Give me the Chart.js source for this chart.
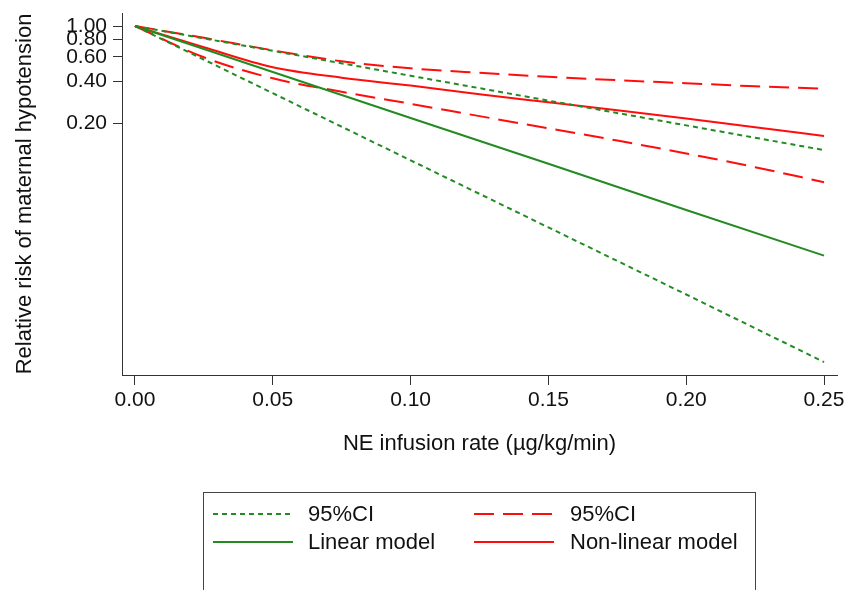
<!DOCTYPE html>
<html>
<head>
<meta charset="utf-8">
<script src="https://cdn.jsdelivr.net/npm/chart.js@4.4.1/dist/chart.umd.min.js"></script>
<style>
  html,body{margin:0;padding:0;background:#fff;}
  #wrap{width:846px;height:590px;position:relative;}
</style>
</head>
<body>
<div id="wrap"><canvas id="chRisk"></canvas></div>
<script>
// NE infusion rate vs relative risk (log scale)
const xLin      = [0, 0.05, 0.10, 0.15, 0.20, 0.25];
const linear    = [1, 0.468, 0.219, 0.103, 0.048, 0.0226];
const linUpper  = [1, 0.664, 0.440, 0.292, 0.194, 0.129];
const linLower  = [1, 0.330, 0.109, 0.036, 0.0119, 0.0039];

const xNL        = [0, 0.025, 0.05, 0.075, 0.10, 0.125, 0.15, 0.175, 0.20, 0.225, 0.25];
const nonLinear  = [1, 0.704, 0.506, 0.426, 0.374, 0.324, 0.284, 0.249, 0.217, 0.188, 0.163];
const nlUpper    = [1, 0.823, 0.670, 0.559, 0.498, 0.462, 0.433, 0.409, 0.389, 0.370, 0.355];
const nlLower    = [1, 0.597, 0.422, 0.338, 0.277, 0.226, 0.185, 0.151, 0.122, 0.0973, 0.076];

const xTicks = [0, 0.05, 0.10, 0.15, 0.20, 0.25];
const yTicks = [0.20, 0.40, 0.60, 0.80, 1.00];

const GREEN = '#228b22', RED = '#ff0d0d';
const FONT = 'Liberation Sans, Arial, Helvetica, sans-serif';

const pts = (xs, ys) => xs.map((x,i)=>({x:x, y:ys[i]}));

function ds(label, xs, ys, color, dash, key, smooth){
    return {
        label, data: pts(xs, ys), borderColor: color, backgroundColor: color,
        borderWidth: 2, borderDash: dash, pointRadius: 0, fill: false,
        tension: smooth ? 0.4 : 0, cubicInterpolationMode: smooth ? 'monotone' : 'default',
        showKey: key
    };
}

// legend drawn by hand (Stata style box, 2 columns)
const keyBox = {
    id: 'keyBox',
    afterDraw(chart){
        const ctx = chart.ctx;
        ctx.save();
        ctx.strokeStyle = '#444'; ctx.lineWidth = 1;
        ctx.strokeRect(203.5, 492.5, 552, 120);
        const items = chart.data.datasets.filter(d=>d.showKey);
        const colX = [213, 474], txtX = [308, 570], rowY = [514, 542];
        ctx.font = '22px ' + FONT;
        ctx.textBaseline = 'middle';
        ctx.fillStyle = '#111';
        items.forEach((d,i)=>{
            const c = i % 2, r = Math.floor(i/2);
            ctx.beginPath();
            ctx.strokeStyle = d.borderColor; ctx.lineWidth = 2;
            ctx.setLineDash(d.borderDash || []);
            ctx.moveTo(colX[c], rowY[r]); ctx.lineTo(colX[c] + 80, rowY[r]);
            ctx.stroke();
            ctx.setLineDash([]);
            ctx.fillText(d.label, txtX[c], rowY[r] + 1);
        });
        ctx.restore();
    }
};

new Chart(document.getElementById('chRisk'), {
    type: 'line',
    data: {
        datasets: [
            ds('95%CI', xLin, linUpper, GREEN, [5,4], true, false),
            ds('95%CI', xNL, nlUpper, RED, [20,9], true, true),
            ds('Linear model', xLin, linear, GREEN, [], true, false),
            ds('Non-linear model', xNL, nonLinear, RED, [], true, true),
            ds('95%CI', xLin, linLower, GREEN, [5,4], false, false),
            ds('95%CI', xNL, nlLower, RED, [20,9], false, true)
        ]
    },
    options: {
        responsive: true, maintainAspectRatio: false, animation: false,
        layout: { padding: { top: 13, right: 9, bottom: 133, left: 0 } },
        plugins: { legend: { display: false }, tooltip: { enabled: false } },
        scales: {
            x: {
                type: 'linear', min: -0.0047, max: 0.2547,
                afterBuildTicks: s => { s.ticks = xTicks.map(v=>({value:v})); },
                afterFit: s => { s.height = 82; s.paddingLeft = 0; s.paddingRight = 0; },
                grid: { drawOnChartArea: false, tickLength: 10, color: '#333', lineWidth: 1 },
                border: { color: '#333', width: 1 },
                ticks: { autoSkip: false, maxRotation: 0, padding: 3, color: '#111',
                    font: { family: FONT, size: 21 }, callback: v => (+v).toFixed(2) },
                title: { display: true, text: 'NE infusion rate (µg/kg/min)', color: '#111',
                    font: { family: FONT, size: 22 }, padding: 0 }
            },
            y: {
                type: 'logarithmic', min: 0.00315, max: 1.24,
                afterBuildTicks: s => { s.ticks = yTicks.map(v=>({value:v})); },
                afterFit: s => { s.width = 122; s.paddingTop = 0; s.paddingBottom = 0; },
                grid: { drawOnChartArea: false, tickLength: 9, color: '#333', lineWidth: 1 },
                border: { color: '#333', width: 1 },
                ticks: { autoSkip: false, padding: 6, color: '#111',
                    font: { family: FONT, size: 21 }, callback: v => (+v).toFixed(2) },
                title: { display: true, text: 'Relative risk of maternal hypotension', color: '#111',
                    font: { family: FONT, size: 22 }, padding: { top: 12, bottom: 0 } }
            }
        }
    },
    plugins: [keyBox]
});
</script>
</body>
</html>
